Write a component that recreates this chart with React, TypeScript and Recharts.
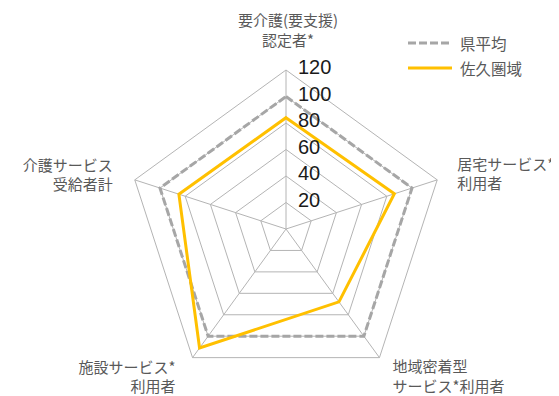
import React from "react";
import { RadarChart, Radar, PolarGrid, PolarAngleAxis, PolarRadiusAxis, Legend } from "recharts";

const categories: string[][] = [
  ["要介護(要支援)", "認定者*"],
  ["居宅サービス*", "利用者"],
  ["地域密着型", "サービス*利用者"],
  ["施設サービス*", "利用者"],
  ["介護サービス", "受給者計"],
];
const prefAverage = [100, 100, 100, 100, 100];
const sakuArea = [84, 86, 68, 111, 85];
const radiusTicks = [0, 20, 40, 60, 80, 100, 120];
const seriesNames = ["県平均", "佐久圏域"];

const data = categories.map((c, i) => ({
  name: c.join("\n"),
  idx: i,
  pref: prefAverage[i],
  saku: sakuArea[i],
}));

const labelLayout = [
  { anchor: "middle", dx: 2, dy: [-51, -31] },
  { anchor: "start", dx: 20, dy: [-16, 3] },
  { anchor: "start", dx: 13, dy: [8, 27.5] },
  { anchor: "end", dx: -17, dy: [9, 28] },
  { anchor: "end", dx: -22, dy: [-15, 4] },
];

const TEXT = "#595959";
const JP = "'Noto Sans CJK JP', 'Noto Sans', sans-serif";

const AngleTick = (props: any) => {
  const { cx, cy, radius, payload, index } = props;
  const rad = (-payload.coordinate * Math.PI) / 180;
  const vx = cx + radius * Math.cos(rad);
  const vy = cy + radius * Math.sin(rad);
  const lay = labelLayout[index];
  const lines = categories[index];
  return (
    <g>
      {lines.map((l, k) => (
        <text
          key={k}
          x={vx + lay.dx}
          y={vy + lay.dy[k]}
          textAnchor={lay.anchor as any}
          dominantBaseline="central"
          fill={TEXT}
          fontSize={15}
          fontFamily={JP}
        >
          {l}
        </text>
      ))}
    </g>
  );
};

const RadiusTick = (props: any) => {
  const { x, y, payload } = props;
  if (payload.value === 0) return null;
  return (
    <text
      x={x + 12}
      y={y - 3}
      textAnchor="start"
      dominantBaseline="central"
      fill="#1a1a1a"
      fontSize={20}
      fontFamily="'Liberation Sans', Arial, sans-serif"
    >
      {payload.value}
    </text>
  );
};

const LegendContent = () => (
  <svg width={150} height={50}>
    <line x1={5} y1={10} x2={49} y2={10} stroke="#a6a6a6" strokeWidth={3} strokeDasharray="8 3" />
    <text x={57} y={10} dominantBaseline="central" fill={TEXT} fontSize={15.5} fontFamily={JP}>
      {seriesNames[0]}
    </text>
    <line x1={5} y1={35} x2={49} y2={35} stroke="#ffc000" strokeWidth={3} />
    <text x={57} y={35} dominantBaseline="central" fill={TEXT} fontSize={15.5} fontFamily={JP}>
      {seriesNames[1]}
    </text>
  </svg>
);

export default function App() {
  return (
    <div style={{ position: "relative", width: 551, height: 388 }}>
      <RadarChart
        width={551}
        height={388}
        data={data}
        cx={278}
        cy={221}
        outerRadius={159}
        startAngle={90}
        endAngle={-270}
        margin={{ top: 0, right: 0, bottom: 0, left: 0 }}
      >
        <PolarGrid gridType="polygon" stroke="#b4b4b4" strokeWidth={1} />
        <PolarAngleAxis dataKey="name" tick={<AngleTick />} tickLine={false} axisLine={false} />
        <PolarRadiusAxis
          angle={90}
          domain={[0, 120]}
          ticks={radiusTicks as any}
          tickCount={7}
          axisLine={false}
          tickLine={false}
          tick={<RadiusTick />}
        />
        <Radar
          name={seriesNames[0]}
          dataKey="pref"
          stroke="#a6a6a6"
          strokeWidth={3}
          strokeDasharray="8 3"
          fill="none"
          fillOpacity={0}
          dot={false}
          isAnimationActive={false}
        />
        <Radar
          name={seriesNames[1]}
          dataKey="saku"
          stroke="#ffc000"
          strokeWidth={3}
          fill="none"
          fillOpacity={0}
          dot={false}
          isAnimationActive={false}
        />
        <Legend
          content={<LegendContent />}
          wrapperStyle={{ position: "absolute", left: 395, top: 25, width: 150, height: 50 }}
        />
      </RadarChart>
    </div>
  );
}
